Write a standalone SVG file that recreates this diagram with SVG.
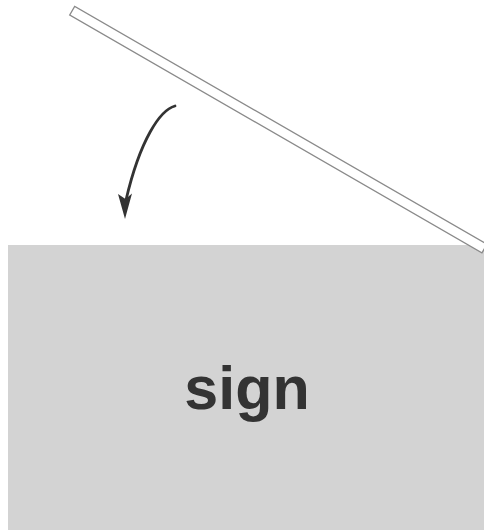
<svg xmlns="http://www.w3.org/2000/svg" width="484" height="530" viewBox="0 0 484 530">
  <style>
    .sign { fill: #d3d3d3; }
    .board { fill: #ffffff; stroke: #8a8a8a; stroke-width: 1.3; }
    .label { font-family: "Liberation Sans", Arial, sans-serif; font-weight: bold; font-size: 61px; fill: #333333; text-anchor: middle; }
    .arrow { fill: none; stroke: #333333; stroke-width: 2.8; stroke-linecap: round; }
    .head { fill: #333333; }
  </style>
  <rect width="484" height="530" fill="#ffffff"/>
  <g id="sign">
    <rect class="sign" x="8" y="245" width="476" height="285"/>
    <text class="label" x="247" y="409">sign</text>
  </g>
  <g id="board">
    <rect class="board" x="0" y="0" width="476" height="10" transform="translate(74.7,6.3) rotate(30)"/>
  </g>
  <g id="connectors">
    <path class="arrow" d="M175,106 C160,110 140,140 126,200"/>
    <path class="head" d="M125,219 L118,194 L125.5,199 L132,193.5 Z"/>
  </g>
</svg>
